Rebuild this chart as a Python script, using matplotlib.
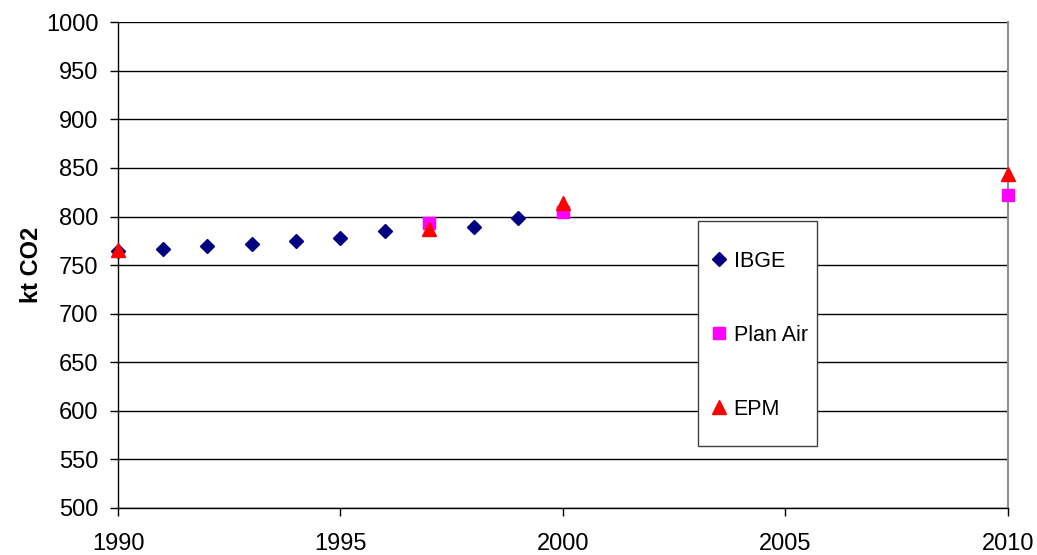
import matplotlib
matplotlib.use("Agg")
import matplotlib.pyplot as plt
from matplotlib.patches import Rectangle

plt.rcParams['font.family'] = ['Liberation Sans', 'DejaVu Sans']

ibge_years = [1990, 1991, 1992, 1993, 1994, 1995, 1996, 1998, 1999]
ibge_values = [765, 767, 769.5, 772, 775, 777.5, 785.5, 789, 798]

planair_years = [1997, 2000, 2010]
planair_values = [793, 805, 822]

epm_years = [1990, 1997, 2000, 2010]
epm_values = [766, 787, 813.5, 844]

y_label = "kt CO2"
x_ticks = [1990, 1995, 2000, 2005, 2010]
y_ticks = list(range(500, 1001, 50))

fig = plt.figure(figsize=(10.37, 5.55), dpi=100)
ax = fig.add_axes([0.1138, 0.0847, 0.8582, 0.8753])

for y in y_ticks:
    ax.axhline(y, color='black', lw=1.0, zorder=1)

ax.plot(ibge_years, ibge_values, linestyle='none', marker='D', ms=7,
        color='#000080', label='IBGE', zorder=3, clip_on=False)
ax.plot(planair_years, planair_values, linestyle='none', marker='s', ms=8.5,
        color='#FF00FF', label='Plan Air', zorder=3, clip_on=False)
ax.plot(epm_years, epm_values, linestyle='none', marker='^', ms=10,
        color='#FF0000', label='EPM', zorder=4, clip_on=False)

ax.set_xlim(1990, 2010)
ax.set_ylim(500, 1000)
ax.set_xticks(x_ticks)
ax.set_yticks(y_ticks)
ax.tick_params(axis='both', direction='out', length=6, width=1, labelsize=17, color='black')
ax.tick_params(axis='x', pad=12)
ax.tick_params(axis='y', pad=8)

ax.spines['top'].set_visible(False)
ax.spines['right'].set_color('#909090')
ax.spines['right'].set_linewidth(1.5)
ax.spines['left'].set_color('black')
ax.spines['bottom'].set_color('black')
for s in ['left', 'bottom']:
    ax.spines[s].set_linewidth(1.0)

ax.set_ylabel(y_label, fontsize=17, fontweight='bold', labelpad=2)

rect = Rectangle((0.6731, 0.1964), 0.1148, 0.4054, transform=fig.transFigure,
                 facecolor='white', edgecolor='#404040', lw=1.0, zorder=5)
fig.patches.append(rect)

leg = fig.legend(loc='upper left', bbox_to_anchor=(0.6856, 0.5477),
                 bbox_transform=fig.transFigure, fontsize=15.5, frameon=False,
                 labelspacing=2.45, borderpad=0, handlelength=0.7,
                 handletextpad=0.35, borderaxespad=0)
leg.set_zorder(6)

fig.savefig('out.png', dpi=100)
